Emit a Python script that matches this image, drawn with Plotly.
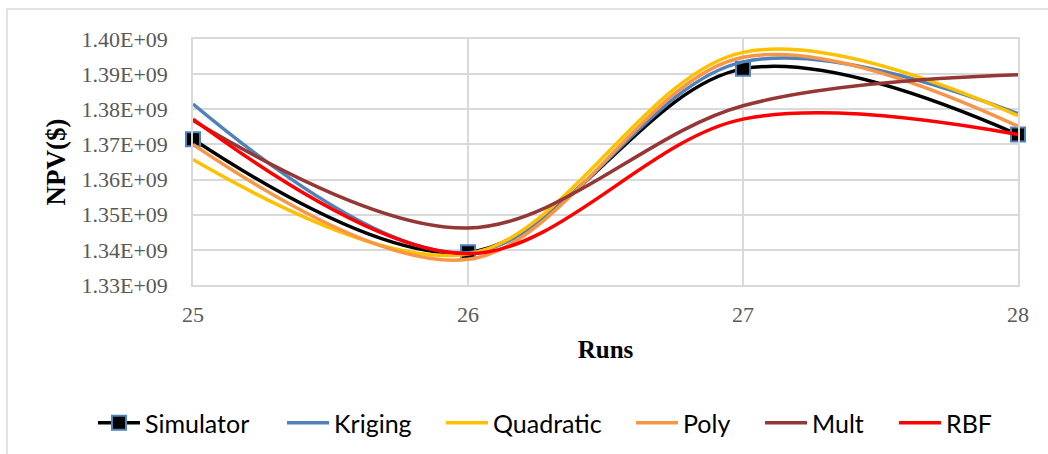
import plotly.graph_objects as go

# Runs on the x axis
runs = [25, 26, 27, 28]

# NPV ($) for the simulator and each surrogate model
simulator = [1.3715e9, 1.3393e9, 1.3915e9, 1.3728e9]
kriging = [1.3815e9, 1.3392e9, 1.3935e9, 1.3788e9]
quadratic = [1.3657e9, 1.3388e9, 1.3962e9, 1.3782e9]
poly = [1.3700e9, 1.3373e9, 1.3948e9, 1.3752e9]
mult = [1.3768e9, 1.3462e9, 1.3810e9, 1.3898e9]
rbf = [1.3772e9, 1.3389e9, 1.3772e9, 1.3728e9]

y_ticks = [1.33e9, 1.34e9, 1.35e9, 1.36e9, 1.37e9, 1.38e9, 1.39e9, 1.40e9]
y_tick_labels = ["1.33E+09", "1.34E+09", "1.35E+09", "1.36E+09",
                 "1.37E+09", "1.38E+09", "1.39E+09", "1.40E+09"]

series = [
    ("Kriging", kriging, "#4F81BD"),
    ("Quadratic", quadratic, "#FFC000"),
    ("Poly", poly, "#F79646"),
    ("Mult", mult, "#953735"),
    ("RBF", rbf, "#FF0000"),
]

# left edge (px) of each legend entry along the bottom row
legend_left_px = [93, 282, 441, 631, 760, 894]

fig = go.Figure()

fig.add_trace(go.Scatter(
    x=runs, y=simulator, name="Simulator", legend="legend",
    mode="lines+markers", cliponaxis=False,
    line=dict(color="#000000", width=3.5, shape="spline", smoothing=1.0),
    marker=dict(symbol="square", size=14, color="#000000",
                line=dict(color="#4F81BD", width=2)),
))

for i, (name, values, color) in enumerate(series, start=2):
    fig.add_trace(go.Scatter(
        x=runs, y=values, name=name, legend=f"legend{i}", mode="lines",
        line=dict(color=color, width=3.5, shape="spline", smoothing=1.0),
    ))

grid = "#D9D9D9"
serif = "Liberation Serif"
W, H = 1048, 454

legend_style = dict(
    orientation="h", xref="container", yref="container",
    y=1 - 423 / H, xanchor="left", yanchor="middle",
    font=dict(family="Lato", size=25, color="#000000"),
    itemwidth=42, bgcolor="rgba(0,0,0,0)", borderwidth=0,
)
legends = {}
for i, px in enumerate(legend_left_px, start=1):
    key = "legend" if i == 1 else f"legend{i}"
    legends[key] = dict(legend_style, x=px / W)

fig.update_layout(
    width=W, height=H,
    margin=dict(l=193, r=30, t=39, b=169),
    paper_bgcolor="white", plot_bgcolor="white",
    showlegend=True,
    xaxis=dict(
        range=[25, 28], tickvals=runs, ticktext=[str(r) for r in runs],
        showgrid=True, gridcolor=grid, gridwidth=1.5,
        showline=True, linecolor=grid, linewidth=1.5, mirror=True,
        zeroline=False, ticks="", ticklabelstandoff=9,
        tickfont=dict(family=serif, size=22, color="#595959"),
        title=dict(text="<b>Runs</b>", standoff=14,
                   font=dict(family=serif, size=25, color="#000000")),
    ),
    yaxis=dict(
        range=[1.33e9, 1.40e9], tickvals=y_ticks, ticktext=y_tick_labels,
        showgrid=True, gridcolor=grid, gridwidth=1.5,
        showline=True, linecolor=grid, linewidth=1.5, mirror=True,
        zeroline=False, ticks="", ticklabelstandoff=19,
        tickfont=dict(family=serif, size=22, color="#595959"),
        title=dict(text="<b>NPV($)</b>", standoff=8,
                   font=dict(family=serif, size=27, color="#000000")),
    ),
    shapes=[dict(
        type="rect", xref="paper", yref="paper",
        x0=-0.2255, x1=1.5, y0=-1.0, y1=1.122,
        line=dict(color=grid, width=1.5), fillcolor="rgba(0,0,0,0)",
        layer="below",
    )],
    **legends,
)

fig.write_html("out.html")
